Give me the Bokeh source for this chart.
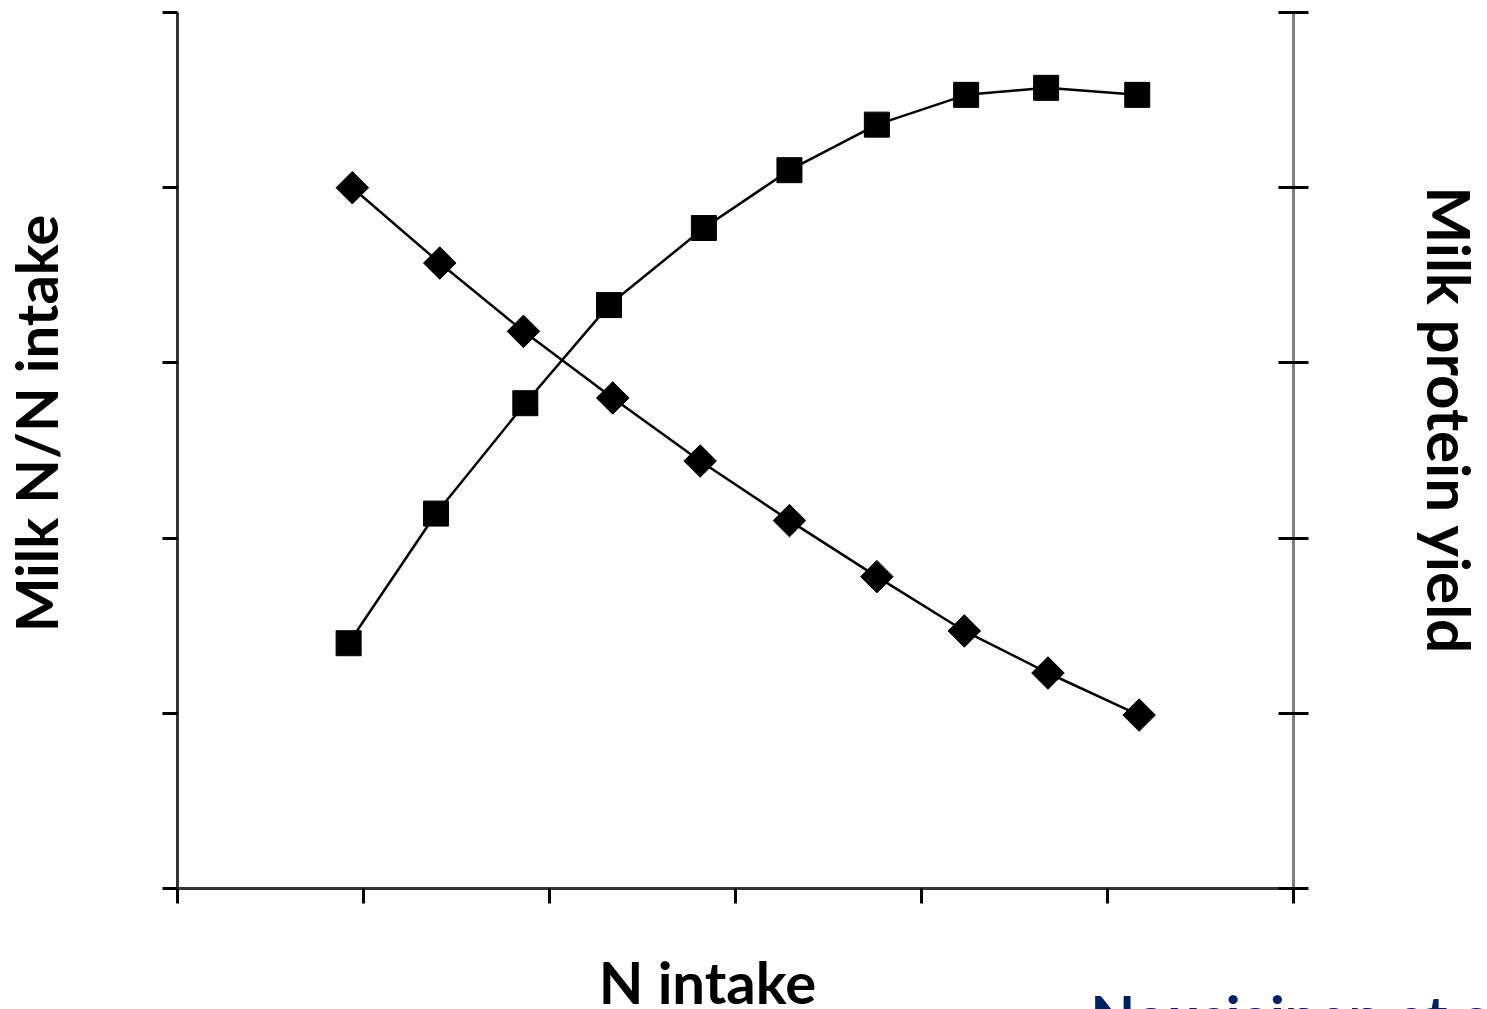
from bokeh.plotting import figure
from bokeh.models import Range1d, LinearAxis, FixedTicker, Label, CustomJSTickFormatter
from bokeh.embed import file_html
from bokeh.resources import INLINE
import math

# Data (arbitrary units)
n_intake_eff = [0.94, 1.41, 1.86, 2.34, 2.81, 3.29, 3.76, 4.23, 4.68, 5.17]
milk_n_ratio = [4.00, 3.57, 3.18, 2.80, 2.44, 2.10, 1.78, 1.47, 1.23, 0.99]
n_intake_prot = [0.92, 1.39, 1.87, 2.32, 2.83, 3.29, 3.76, 4.24, 4.67, 5.16]
protein_yield = [1.40, 2.14, 2.77, 3.33, 3.77, 4.10, 4.36, 4.53, 4.57, 4.53]
x_ticks = [0, 1, 2, 3, 4, 5, 6]
y_ticks = [0, 1, 2, 3, 4, 5]

FONT = "Lato"
W, H = 1487, 1009
X0, XS = 177.0, 186.0      # pixel of x=0, pixels per x unit
Y0, YS = 888.0, 175.2      # pixel of y=0, pixels per y unit

p = figure(width=W, height=H, min_border=0,
           x_range=Range1d(-X0 / XS, (W - X0) / XS),
           y_range=Range1d((Y0 - H) / YS, Y0 / YS),
           output_backend="svg", toolbar_location=None,
           x_axis_location=None, y_axis_location=None)
p.outline_line_color = None
p.xgrid.visible = False
p.ygrid.visible = False
p.extra_y_ranges = {"right": Range1d((Y0 - H) / YS, Y0 / YS)}

blank = CustomJSTickFormatter(code="return ''")

def style(ax, color, tin, tout):
    ax.axis_line_color = color
    ax.axis_line_width = 3
    ax.major_tick_line_color = "black"
    ax.major_tick_line_width = 3
    ax.major_tick_in = tin
    ax.major_tick_out = tout
    ax.minor_tick_line_color = None
    ax.formatter = blank

bottom = LinearAxis(ticker=FixedTicker(ticks=x_ticks), fixed_location=0, bounds=(0, 6))
left = LinearAxis(ticker=FixedTicker(ticks=y_ticks), fixed_location=0, bounds=(0, 5))
right = LinearAxis(ticker=FixedTicker(ticks=y_ticks), fixed_location=6, bounds=(0, 5),
                   y_range_name="right")
style(bottom, "#333333", 0, 15)
style(left, "#333333", 0, 15)
style(right, "#808080", 15, 15)
p.add_layout(bottom, "below")
p.add_layout(left, "left")
p.add_layout(right, "right")

# Milk N / N intake (diamonds)
p.line(n_intake_eff, milk_n_ratio, line_color="black", line_width=2.5)
p.scatter(n_intake_eff, milk_n_ratio, marker="square", angle=math.pi / 4,
          size=23, fill_color="black", line_color="black")

# Milk protein yield (squares)
p.line(n_intake_prot, protein_yield, line_color="black", line_width=2.5,
       y_range_name="right")
p.scatter(n_intake_prot, protein_yield, marker="square", size=25,
          fill_color="black", line_color="black", y_range_name="right")

p.add_layout(Label(x=(707 - X0) / XS, y=(Y0 - 981) / YS, text="N intake", text_font=FONT,
                   text_font_style="bold", text_font_size="58px",
                   text_align="center", text_baseline="middle", text_color="black"))
p.add_layout(Label(x=(35 - X0) / XS, y=(Y0 - 423) / YS, text="Milk N/N intake", text_font=FONT,
                   text_font_style="bold", text_font_size="58px", angle=math.pi / 2,
                   text_align="center", text_baseline="middle", text_color="black"))
p.add_layout(Label(x=(1449 - X0) / XS, y=(Y0 - 420) / YS, text="Milk protein yield",
                   text_font=FONT, text_font_style="bold", text_font_size="60px",
                   angle=-math.pi / 2, text_align="center", text_baseline="middle",
                   text_color="black"))
p.add_layout(Label(x=(1090 - X0) / XS, y=(Y0 - 980) / YS, text="Nousiainen et al.",
                   text_font=FONT, text_font_style="bold", text_font_size="58px",
                   text_align="left", text_baseline="top", text_color="#002060"))

open("out.html", "w").write(file_html(p, INLINE))
